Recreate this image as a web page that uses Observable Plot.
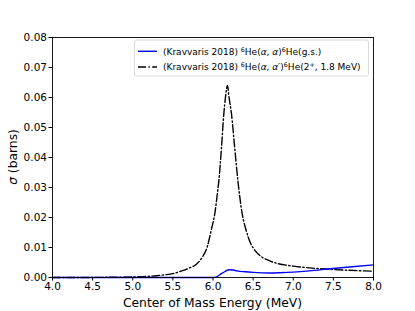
<!DOCTYPE html>
<html><head><meta charset="utf-8">
<script src="https://cdn.jsdelivr.net/npm/d3@7"></script>
<script src="https://cdn.jsdelivr.net/npm/@observablehq/plot@0.6"></script>
<style>body{margin:0;background:#fff}</style>
</head><body><div id="chart"></div>
<script>
const gsE = [4.0, 5.0, 6.0, 6.05, 6.1, 6.15, 6.2, 6.25, 6.3, 6.4, 6.5, 6.7, 6.84, 7.0, 7.2, 7.46, 7.7, 8.0];
const gsSigma = [0, 0, 0, 0.0003, 0.0012, 0.002, 0.0026, 0.0025, 0.0022, 0.0019, 0.0017, 0.0015, 0.0016, 0.0018, 0.0022, 0.0029, 0.0035, 0.0042];
const exE = [4.0, 4.5, 4.8, 5.0, 5.2, 5.3, 5.4, 5.5, 5.6, 5.7, 5.8, 5.86, 5.927, 5.98, 6.022, 6.05, 6.073, 6.106, 6.135, 6.155, 6.18, 6.2, 6.23, 6.27, 6.31, 6.364, 6.41, 6.467, 6.53, 6.6, 6.7, 6.8, 7.0, 7.2, 7.46, 7.7, 8.0];
const exSigma = [0, 0.00003, 0.0001, 0.0002, 0.0004, 0.0006, 0.0009, 0.0013, 0.0021, 0.0031, 0.0046, 0.0065, 0.0101, 0.016, 0.0212, 0.027, 0.0323, 0.0434, 0.0546, 0.060, 0.064, 0.060, 0.0546, 0.0434, 0.0323, 0.0212, 0.016, 0.0115, 0.0088, 0.0070, 0.0056, 0.0047, 0.0038, 0.0032, 0.0027, 0.0024, 0.0021];
const xTicks = [4.0, 4.5, 5.0, 5.5, 6.0, 6.5, 7.0, 7.5, 8.0];
const yTicks = [0, 0.01, 0.02, 0.03, 0.04, 0.05, 0.06, 0.07, 0.08];
const xLabel = "Center of Mass Energy (MeV)";

const gs = gsE.map((e, i) => ({e, s: gsSigma[i]}));
const ex = exE.map((e, i) => ({e, s: exSigma[i]}));

const W = 415, H = 311, mL = 52, mR = 42, mT = 37, mB = 34;
const plot = Plot.plot({
  width: W, height: H,
  marginLeft: mL, marginRight: mR, marginTop: mT, marginBottom: mB,
  style: {fontFamily: "DejaVu Sans", fontSize: "10.5px", color: "#000", background: "#fff"},
  x: {domain: [4, 8]},
  y: {domain: [0, 0.08]},
  marks: [
    Plot.line(ex, {x: "e", y: "s", stroke: "#000", strokeWidth: 1.4, strokeDasharray: "8,2.4,1.4,2.4", curve: "monotone-x"}),
    Plot.line(gs, {x: "e", y: "s", stroke: "#0000ff", strokeWidth: 1.4, curve: "monotone-x"}),
    Plot.frame({stroke: "#000", strokeWidth: 0.9}),
    Plot.axisX({ticks: xTicks, tickFormat: d3.format(".1f"), tickSize: 3.5, tickPadding: 2, label: null, fontSize: 10.5}),
    Plot.axisY({ticks: yTicks, tickFormat: d3.format(".2f"), tickSize: 3.5, tickPadding: 2, label: null, fontSize: 10.5})
  ]
});
document.getElementById("chart").appendChild(plot);

const svg = d3.select(plot);
const pw = W - mL - mR, ph = H - mT - mB;
// x label
svg.append("text").attr("x", mL + pw / 2).attr("y", 307).attr("text-anchor", "middle")
  .attr("font-family", "DejaVu Sans").attr("font-size", 12.3).attr("fill", "#000").text(xLabel);
// y label
const yl = svg.append("text").attr("transform", `translate(17,${mT + ph / 2}) rotate(-90)`)
  .attr("text-anchor", "middle").attr("font-family", "DejaVu Sans").attr("font-size", 12.3).attr("fill", "#000");
yl.append("tspan").attr("font-style", "italic").text("σ");
yl.append("tspan").text(" (barns)");

// legend
const lx = 134.5, ly = 40, lw = 234, lh = 36;
const lg = svg.append("g").attr("font-family", "DejaVu Sans").attr("font-size", 9).attr("fill", "#000").attr("text-anchor", "start");
lg.append("rect").attr("x", lx).attr("y", ly).attr("width", lw).attr("height", lh).attr("rx", 2)
  .attr("fill", "#fff").attr("fill-opacity", 0.8).attr("stroke", "#d0d0d0").attr("stroke-width", 0.8);
lg.append("line").attr("x1", 138).attr("x2", 157).attr("y1", 51.3).attr("y2", 51.3).attr("stroke", "#0000ff").attr("stroke-width", 1.4);
lg.append("line").attr("x1", 138).attr("x2", 157).attr("y1", 67).attr("y2", 67).attr("stroke", "#000").attr("stroke-width", 1.4).attr("stroke-dasharray", "8,2.4,1.4,2.4");
function entry(y, parts) {
  const t = lg.append("text").attr("x", 163).attr("y", y).attr("text-anchor", "start");
  for (const p of parts) {
    const s = t.append("tspan").text(p.t);
    if (p.sup) s.attr("baseline-shift", "super").attr("font-size", 6.3);
    if (p.it) s.attr("font-style", "italic");
  }
}
entry(54.6, [{t: "(Kravvaris 2018) "}, {t: "6", sup: true}, {t: "He("}, {t: "α", it: true}, {t: ", "}, {t: "α", it: true}, {t: ")"}, {t: "6", sup: true}, {t: "He(g.s.)"}]);
entry(70.3, [{t: "(Kravvaris 2018) "}, {t: "6", sup: true}, {t: "He("}, {t: "α", it: true}, {t: ", "}, {t: "α′", it: true}, {t: ")"}, {t: "6", sup: true}, {t: "He(2"}, {t: "+", sup: true}, {t: ", 1.8 MeV)"}]);
</script>
</body></html>
